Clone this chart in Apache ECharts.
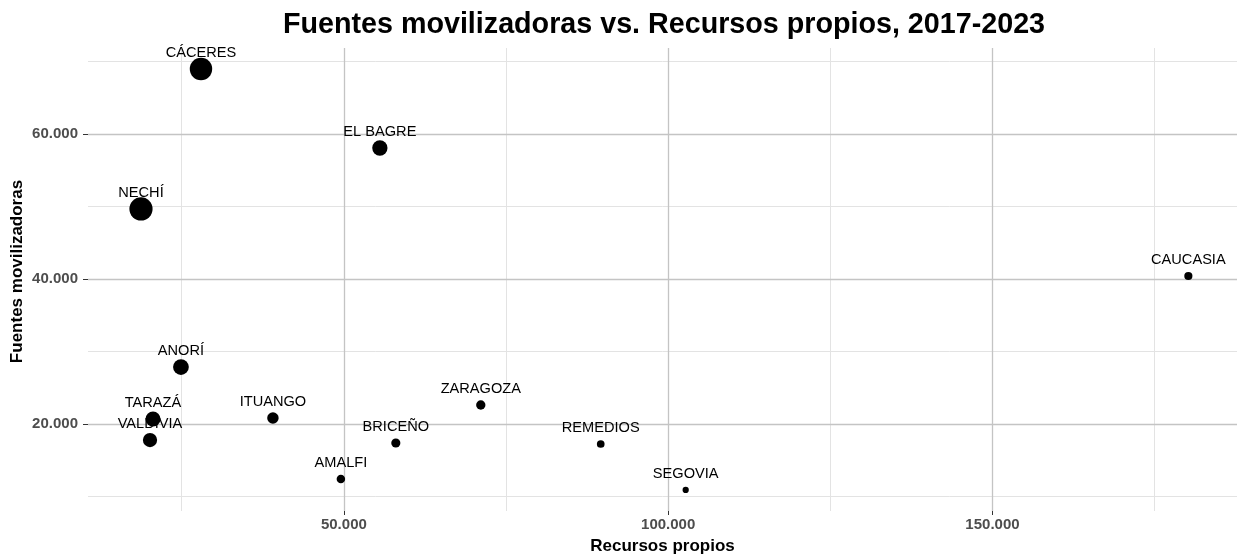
<!DOCTYPE html>
<html>
<head>
<meta charset="utf-8">
<script src="https://cdn.jsdelivr.net/npm/echarts@6/dist/echarts.min.js"></script>
<style>
html,body{margin:0;padding:0;background:#fff;}
#chart{width:1239px;height:554px;}
</style>
</head>
<body>
<div id="chart"></div>
<script>
// Data
var municipios = ['CÁCERES','EL BAGRE','NECHÍ','CAUCASIA','ANORÍ','TARAZÁ','VALDIVIA','ITUANGO','AMALFI','BRICEÑO','ZARAGOZA','REMEDIOS','SEGOVIA'];
var recursosPropios = [27970, 55550, 18720, 180200, 24880, 20570, 20110, 39060, 49540, 58010, 71110, 89600, 102700];
var fuentesMovilizadoras = [68970, 58070, 49660, 40410, 27860, 20690, 17790, 20830, 12410, 17380, 22620, 17240, 10900];
var xTicks = [50000, 100000, 150000];
var xMinor = [25000, 75000, 125000, 175000];
var yTicks = [20000, 40000, 60000];
var yMinor = [10000, 30000, 50000, 70000];

function fmt(v){ return String(v).replace(/\B(?=(\d{3})+(?!\d))/g, '.'); }

var pts = municipios.map(function(n,i){
  return {name:n, value:[recursosPropios[i], fuentesMovilizadoras[i], fuentesMovilizadoras[i]/recursosPropios[i]]};
});

function gridLines(vals, axis, color, width){
  return vals.map(function(v){
    var o = {lineStyle:{color:color,width:width,type:'solid'}};
    o[axis] = v;
    return o;
  });
}

var FONT = '"Liberation Sans", Arial, sans-serif';

var chart = echarts.init(document.getElementById('chart'), null, {renderer:'canvas'});
chart.setOption({
  animation:false,
  backgroundColor:'#ffffff',
  title:{
    text:'Fuentes movilizadoras vs. Recursos propios, 2017-2023',
    left:659, top:6, textAlign:'center',
    textStyle:{fontFamily:FONT,fontSize:28.7,fontWeight:'bold',color:'#000'}
  },
  grid:{left:88,right:2,top:48,bottom:43,containLabel:false,outerBoundsMode:'none'},
  xAxis:{
    type:'value', min:10550, max:187700,
    name:'Recursos propios', nameLocation:'middle', nameGap:27, nameMoveOverlap:false,
    nameTextStyle:{fontFamily:FONT,fontSize:17,fontWeight:'bold',color:'#000'},
    axisLine:{show:false},
    axisTick:{show:true,customValues:xTicks,length:4,lineStyle:{color:'#333',width:1}},
    axisLabel:{customValues:xTicks,formatter:fmt,fontFamily:FONT,fontSize:15,fontWeight:'bold',color:'#4d4d4d',margin:6},
    splitLine:{show:false}
  },
  yAxis:{
    type:'value', min:8000, max:71860,
    name:'Fuentes movilizadoras', nameLocation:'middle', nameGap:62, nameRotate:90, nameMoveOverlap:false,
    nameTextStyle:{fontFamily:FONT,fontSize:17,fontWeight:'bold',color:'#000',padding:[0,0,0,16]},
    axisLine:{show:false},
    axisTick:{show:true,customValues:yTicks,length:5,lineStyle:{color:'#333',width:1}},
    axisLabel:{customValues:yTicks,formatter:fmt,fontFamily:FONT,fontSize:15,fontWeight:'bold',color:'#4d4d4d',margin:10},
    splitLine:{show:false}
  },
  series:[
    {
      type:'scatter',
      silent:true,
      symbolSize:0,
      data:[],
      z:1,
      markLine:{
        silent:true, symbol:'none', label:{show:false}, animation:false, z:1,
        data: gridLines(xMinor,'xAxis','#e3e3e3',1)
          .concat(gridLines(yMinor,'yAxis','#e3e3e3',1))
          .concat(gridLines(xTicks,'xAxis','#c4c4c4',1.3))
          .concat(gridLines(yTicks,'yAxis','#c4c4c4',1.3))
      }
    },
    {
      type:'scatter',
      data:pts,
      symbolSize:function(v){ return 2 + 13*Math.sqrt(v[2]); },
      itemStyle:{color:'#000',opacity:1},
      label:{show:false},
      z:3
    },
    {
      type:'scatter',
      data:pts,
      symbolSize:1,
      itemStyle:{color:'rgba(0,0,0,0)'},
      label:{
        show:true, position:'inside', offset:[0,-16],
        formatter:function(p){return p.name;},
        fontFamily:FONT, fontSize:14.6, color:'#000', textBorderWidth:0, opacity:1
      },
      z:4
    }
  ]
});
</script>
</body>
</html>
